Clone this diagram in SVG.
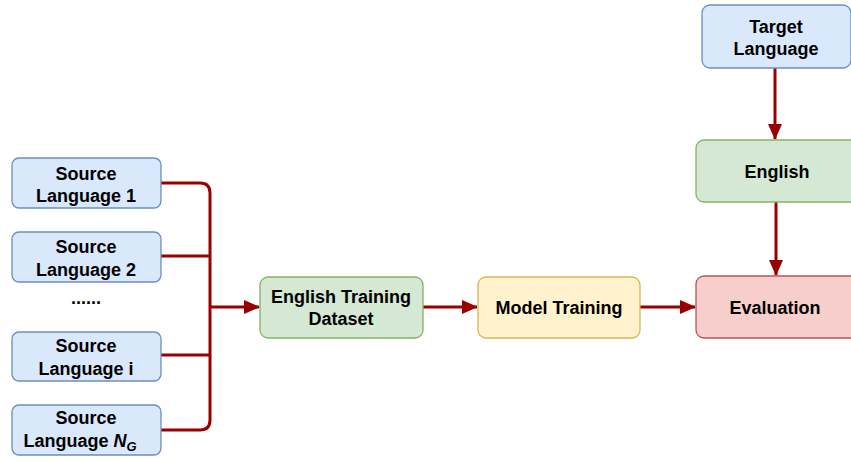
<svg xmlns="http://www.w3.org/2000/svg" width="851" height="462" viewBox="0 0 851 462">
<defs>
<style>
.t{font-family:"Liberation Sans",Arial,sans-serif;font-weight:bold;font-size:18px;fill:#000;text-anchor:middle}
.blue{fill:#dae8fc;stroke:#6c8ebf;stroke-width:1.3}
.green{fill:#d5e8d4;stroke:#82b366;stroke-width:1.3}
.yellow{fill:#fff2cc;stroke:#d6b656;stroke-width:1.3}
.red{fill:#f8cecc;stroke:#b85450;stroke-width:1.3}
.c{fill:none;stroke:#990000;stroke-width:3}
</style>
<marker id="ah" markerWidth="16" markerHeight="14" viewBox="0 0 16 14" refX="15" refY="7" orient="auto" markerUnits="userSpaceOnUse">
<path d="M0,0 L16,7 L0,14 Z" fill="#990000"/>
</marker>
</defs>
<rect width="851" height="462" fill="#fff"/>
<g id="connectors">
<path class="c" d="M161,183 H200 Q210,183 210,193 V420 Q210,430 200,430 H161"/>
<path class="c" d="M161,256 H210"/>
<path class="c" d="M161,355 H210"/>
<path class="c" d="M210,307 H259" marker-end="url(#ah)"/>
<path class="c" d="M423,307 H477" marker-end="url(#ah)"/>
<path class="c" d="M640,307 H695" marker-end="url(#ah)"/>
<path class="c" d="M775,68 V139" marker-end="url(#ah)"/>
<path class="c" d="M776,202 V275" marker-end="url(#ah)"/>
</g>
<g id="src1"><rect class="blue" x="12" y="158" width="149" height="50" rx="7"/><text class="t" x="86" y="180">Source</text><text class="t" x="86" y="202">Language 1</text></g>
<g id="src2"><rect class="blue" x="12" y="232" width="149" height="50" rx="7"/><text class="t" x="86" y="253">Source</text><text class="t" x="86" y="276">Language 2</text></g>
<g id="dots"><text class="t" x="86" y="304">......</text></g>
<g id="srci"><rect class="blue" x="12" y="332" width="149" height="49" rx="7"/><text class="t" x="86" y="352">Source</text><text class="t" x="86" y="375">Language i</text></g>
<g id="srcN"><rect class="blue" x="12" y="405" width="149" height="50" rx="7"/><text class="t" x="86" y="424">Source</text><text class="t" x="80" y="447">Language <tspan font-style="italic">N</tspan><tspan font-style="italic" font-size="13" dy="4">G</tspan></text></g>
<g id="etd"><rect class="green" x="260" y="277" width="163" height="61" rx="8"/><text class="t" x="341" y="303">English Training</text><text class="t" x="341" y="325">Dataset</text></g>
<g id="mt"><rect class="yellow" x="478" y="277" width="162" height="61" rx="8"/><text class="t" x="559" y="314">Model Training</text></g>
<g id="eval"><rect class="red" x="696" y="276" width="163" height="62" rx="8"/><text class="t" x="775" y="314">Evaluation</text></g>
<g id="target"><rect class="blue" x="702" y="5" width="149" height="63" rx="8"/><text class="t" x="776" y="33">Target</text><text class="t" x="776" y="55">Language</text></g>
<g id="english"><rect class="green" x="696" y="140" width="163" height="62" rx="8"/><text class="t" x="777" y="178">English</text></g>
</svg>
